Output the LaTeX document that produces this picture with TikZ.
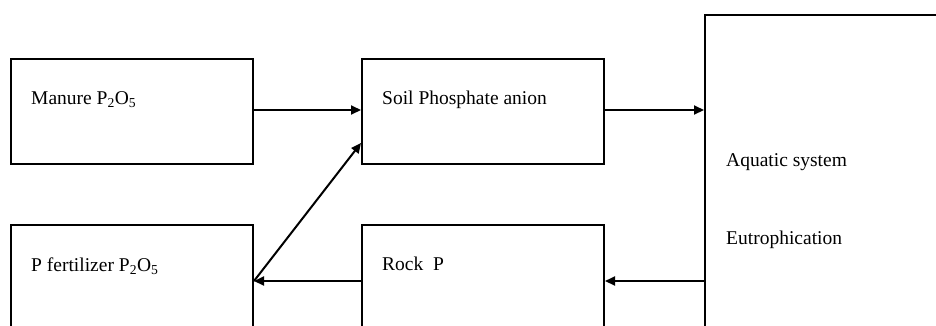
\documentclass[tikz,border=0pt]{standalone}
\usepackage{fontspec}
\setmainfont{Liberation Serif}
\usetikzlibrary{arrows.meta}
\begin{document}
\begin{tikzpicture}[x=1pt,y=-1pt,
  boxst/.style={draw,line width=2pt,rectangle,inner sep=0pt},
  lbl/.style={anchor=base west,inner sep=0pt,font=\fontsize{19.5}{22}\selectfont},
  arr/.style={line width=2pt,-{Triangle[length=10pt,width=9pt]}}]
\useasboundingbox (0,0) rectangle (936,325);
\clip (0,0) rectangle (936,325);
\node[boxst,minimum width=242pt,minimum height=105pt,anchor=north west] (manure) at (10,58) {};
\node[boxst,minimum width=242pt,minimum height=105pt,anchor=north west] (soil) at (361,58) {};
\node[boxst,minimum width=242pt,minimum height=150pt,anchor=north west] (fert) at (10,224) {};
\node[boxst,minimum width=242pt,minimum height=150pt,anchor=north west] (rock) at (361,224) {};
\node[boxst,minimum width=300pt,minimum height=360pt,anchor=north west] (aqua) at (704,14) {};
\node[lbl] (tmanure) at (31,104) {Manure P\textsubscript{2}O\textsubscript{5}};
\node[lbl] (tsoil) at (382,104) {Soil Phosphate anion};
\node[lbl] (tfert) at (31,271) {P fertilizer P\textsubscript{2}O\textsubscript{5}};
\node[lbl] (trock) at (382,270) {Rock \ P};
\node[lbl] (taqua) at (726,166) {Aquatic system};
\node[lbl] (teutro) at (726,244) {Eutrophication};
\coordinate (mR) at (manure.east |- 0,110);
\coordinate (sL) at (soil.west |- 0,110);
\coordinate (sR) at (soil.east |- 0,110);
\coordinate (aL) at (aqua.west |- 0,110);
\coordinate (aL2) at (aqua.west |- 0,281);
\coordinate (rR) at (rock.east |- 0,281);
\coordinate (rL) at (rock.west |- 0,281);
\coordinate (fR) at (fert.east |- 0,281);
\coordinate (sLd) at (soil.west |- 0,143);
\draw[arr] (mR) -- (sL);
\draw[arr] (sR) -- (aL);
\draw[arr] (aL2) -- (rR);
\draw[arr] (rL) -- (fR);
\draw[arr] (fR) -- (sLd);
\end{tikzpicture}
\end{document}
